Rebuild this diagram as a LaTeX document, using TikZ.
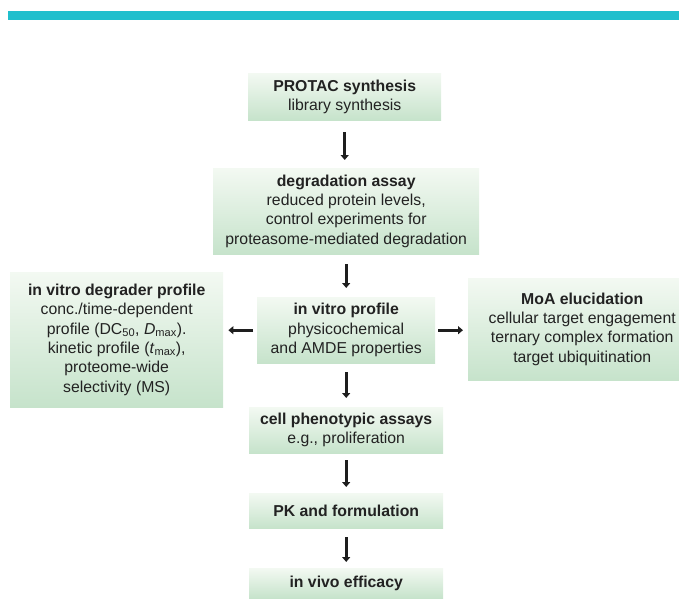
\documentclass[tikz,border=0pt]{standalone}
\usepackage{fontspec}
\setmainfont{Liberation Sans}
\usetikzlibrary{arrows.meta}
\definecolor{barteal}{HTML}{20BFCD}
\definecolor{boxtop}{HTML}{F3F9F2}
\definecolor{boxbot}{HTML}{C6E3CB}
\definecolor{arrowc}{HTML}{1E1E1E}
\definecolor{txt}{HTML}{222222}
\tikzset{
  box/.style={anchor=north west, inner sep=0pt, align=center, top color=boxtop, bottom color=boxbot, draw=none,
    text=txt, font=\fontsize{15.8}{19.3}\selectfont},
  flow/.style={draw=arrowc, line width=2.6pt, -{Triangle[width=8pt,length=5pt]}}
}
\begin{document}
\begin{tikzpicture}[x=1pt,y=-1pt]
\useasboundingbox (0,0) rectangle (679,598);
\fill[barteal] (8,11) rectangle (679,19.5);
\node[box, minimum width=193pt, minimum height=47pt] (b1) at (248,73) {\textbf{PROTAC synthesis}\\library synthesis};
\node[box, minimum width=266pt, minimum height=86pt] (b2) at (213,168) {\textbf{degradation assay}\\reduced protein levels,\\control experiments for\\proteasome-mediated degradation};
\node[box, minimum width=178pt, minimum height=66pt] (b3) at (257,297) {\textbf{in vitro profile}\\physicochemical\\and AMDE properties};
\node[box, minimum width=213pt, minimum height=135pt] (bl) at (10,272) {\textbf{in vitro degrader profile}\\conc./time-dependent\\profile (DC\textsubscript{50}, \textit{D}\textsubscript{max}).\\kinetic profile (\textit{t}\textsubscript{max}),\\proteome-wide\\selectivity (MS)};
\node[box, minimum width=228pt, minimum height=102pt] (br) at (468,278) {\textbf{MoA elucidation}\\cellular target engagement\\ternary complex formation\\target ubiquitination};
\node[box, minimum width=194pt, minimum height=46pt] (b4) at (249,407) {\textbf{cell phenotypic assays}\\e.g., proliferation};
\node[box, minimum width=194pt, minimum height=35pt] (b5) at (249,493) {\textbf{PK and formulation}};
\node[box, minimum width=194pt, minimum height=30pt] (b6) at (249,568) {\textbf{in vivo efficacy}};
\draw[flow, shorten <=12pt, shorten >=8pt] (b1.south) -- (b1.south |- b2.north);
\draw[flow, shorten <=10pt, shorten >=9pt] (b2.south -| b3.north) -- (b3.north);
\draw[flow, shorten <=9pt, shorten >=9pt] (b3.south) -- (b3.south |- b4.north);
\draw[flow, shorten <=7pt, shorten >=6pt] (b4.south) -- (b5.north);
\draw[flow, shorten <=9pt, shorten >=6pt] (b5.south) -- (b6.north);
\draw[flow, shorten <=4pt, shorten >=5pt] (b3.west) -- (b3.west -| bl.east);
\draw[flow, shorten <=3pt, shorten >=5pt] (b3.east) -- (b3.east -| br.west);
\end{tikzpicture}
\end{document}
